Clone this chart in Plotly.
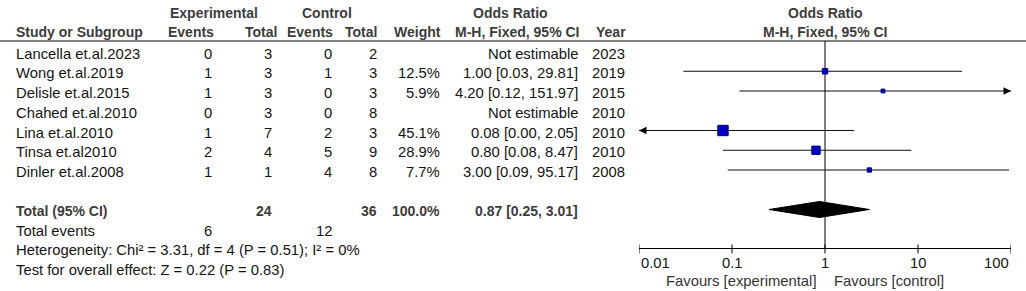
import numpy as np
import plotly.graph_objects as go

# ---------------- data ----------------
studies = ["Lancella et.al.2023", "Wong et.al.2019", "Delisle et.al.2015", "Chahed et.al.2010",
           "Lina et.al.2010", "Tinsa et.al2010", "Dinler et.al.2008"]
exp_events = [0, 1, 1, 0, 1, 2, 1]
exp_total = [3, 3, 3, 3, 7, 4, 1]
ctl_events = [0, 1, 0, 0, 2, 5, 4]
ctl_total = [2, 3, 3, 8, 3, 9, 8]
weights = [None, 12.5, 5.9, None, 45.1, 28.9, 7.7]
or_est = [None, 1.00, 4.20, None, 0.08, 0.80, 3.00]
ci_lo = [None, 0.03, 0.12, None, 0.00, 0.08, 0.09]
ci_hi = [None, 29.81, 151.97, None, 2.05, 8.47, 95.17]
years = [2023, 2019, 2015, 2010, 2010, 2010, 2008]

total_exp_n = 24
total_ctl_n = 36
total_weight = 100.0
total_exp_events = 6
total_ctl_events = 12
pooled_or = 0.87
pooled_lo = 0.25
pooled_hi = 3.01
het_text = "Heterogeneity: Chi² = 3.31, df = 4 (P = 0.51); I² = 0%"
overall_text = "Test for overall effect: Z = 0.22 (P = 0.83)"
tick_vals = [0.01, 0.1, 1, 10, 100]
tick_labels = ["0.01", "0.1", "1", "10", "100"]

# ---------------- layout helpers ----------------
W, H = 1026, 291
AX_MIN, AX_MAX = 0.01, 100
FONT = "Arial, Liberation Sans, sans-serif"
FS_R = 14.8
FS_B = 14
BODY = "#141414"
HEAD = "#3c3c3c"

row_y = [51.5 + 19.75 * i for i in range(len(studies))]
total_y = 209.5
axis_y = 248.5
header_line_y = 41

fig = go.Figure()
ann = []


def txt(x, y, s, anchor="left", bold=False, color=BODY, xref="paper"):
    ann.append(dict(x=(x / W) if xref == "paper" else x, y=y, xref=xref, yref="y",
                    text=("<b>%s</b>" % s) if bold else s,
                    showarrow=False, xanchor=anchor, yanchor="middle",
                    font=dict(family=FONT, size=FS_B if bold else FS_R, color=color)))


# headers
txt(214, 13, "Experimental", "center", True, HEAD)
txt(327, 13, "Control", "center", True, HEAD)
txt(510, 13, "Odds Ratio", "center", True, HEAD)
txt(825, 13, "Odds Ratio", "center", True, HEAD)
txt(14, 32, "Study or Subgroup", "left", True, HEAD)
txt(216, 32, "Events", "right", True, HEAD)
txt(279, 32, "Total", "right", True, HEAD)
txt(335, 32, "Events", "right", True, HEAD)
txt(379, 32, "Total", "right", True, HEAD)
txt(443, 32, "Weight", "right", True, HEAD)
txt(581, 32, "M-H, Fixed, 95% CI", "right", True, HEAD)
txt(628, 32, "Year", "right", True, HEAD)
txt(825, 32, "M-H, Fixed, 95% CI", "center", True, HEAD)

# study rows
for i, name in enumerate(studies):
    ty = row_y[i] + 2
    txt(14, ty, name)
    txt(214, ty, str(exp_events[i]), "right")
    txt(274, ty, str(exp_total[i]), "right")
    txt(334, ty, str(ctl_events[i]), "right")
    txt(379, ty, str(ctl_total[i]), "right")
    if weights[i] is not None:
        txt(442, ty, "%.1f%%" % weights[i], "right")
        txt(580, ty, "%.2f [%.2f, %.2f]" % (or_est[i], ci_lo[i], ci_hi[i]), "right")
    else:
        txt(580, ty, "Not estimable", "right")
    txt(627, ty, str(years[i]), "right")

# totals
ty = total_y + 1.5
txt(14, ty, "Total (95% CI)", "left", True, HEAD)
txt(274, ty, str(total_exp_n), "right", True, HEAD)
txt(379, ty, str(total_ctl_n), "right", True, HEAD)
txt(442, ty, "%.1f%%" % total_weight, "right", True, HEAD)
txt(580, ty, "%.2f [%.2f, %.2f]" % (pooled_or, pooled_lo, pooled_hi), "right", True, HEAD)
txt(14, 231, "Total events")
txt(214, 231, str(total_exp_events), "right")
txt(334, 231, str(total_ctl_events), "right")
txt(14, 250, het_text)
txt(14, 270, overall_text)
txt(819, 281, "Favours [experimental]", "right", False, "#333333")
txt(832, 281, "Favours [control]", "left", False, "#333333")

# tick labels of the odds-ratio scale (placed through the log axis); end labels kept inside
for k, (v, lab) in enumerate(zip(tick_vals, tick_labels)):
    anchor = "left" if k == 0 else ("right" if k == len(tick_vals) - 1 else "center")
    txt(np.log10(v), 263, lab, anchor, xref="x")

# axis line and tick marks of the odds-ratio scale
fig.add_trace(go.Scatter(x=[AX_MIN, AX_MAX], y=[axis_y, axis_y], mode="lines", cliponaxis=False,
                         line=dict(color="black", width=1), hoverinfo="skip"))
tx, ty_ = [], []
for v in tick_vals:
    tx += [v, v, None]
    ty_ += [axis_y - 4, axis_y + 5, None]
fig.add_trace(go.Scatter(x=tx, y=ty_, mode="lines", cliponaxis=False,
                         line=dict(color="black", width=1), hoverinfo="skip"))

# vertical line of no effect
fig.add_trace(go.Scatter(x=[1, 1], y=[header_line_y, axis_y], mode="lines", cliponaxis=False,
                         line=dict(color="black", width=1), hoverinfo="skip"))

# CI lines and arrows
for i in range(len(studies)):
    if or_est[i] is None:
        continue
    lo = max(ci_lo[i], AX_MIN)
    hi = min(ci_hi[i], AX_MAX)
    fig.add_trace(go.Scatter(x=[lo, hi], y=[row_y[i], row_y[i]], mode="lines", cliponaxis=False,
                             line=dict(color="#111111", width=1), hoverinfo="skip"))
    if ci_hi[i] > AX_MAX:
        ann.append(dict(x=np.log10(AX_MAX), y=row_y[i], xref="x", yref="y", text="",
                        showarrow=True, ax=-9, ay=0, arrowhead=2, arrowsize=1.5,
                        arrowwidth=1, arrowcolor="black", standoff=0))
    if ci_lo[i] < AX_MIN:
        ann.append(dict(x=np.log10(AX_MIN), y=row_y[i], xref="x", yref="y", text="",
                        showarrow=True, ax=9, ay=0, arrowhead=2, arrowsize=1.5,
                        arrowwidth=1, arrowcolor="black", standoff=0))

# study squares
est_x = [or_est[i] for i in range(len(studies)) if or_est[i] is not None]
est_y = [row_y[i] for i in range(len(studies)) if or_est[i] is not None]
est_s = [1.55 * np.sqrt(weights[i]) for i in range(len(studies)) if or_est[i] is not None]
fig.add_trace(go.Scatter(x=est_x, y=est_y, mode="markers", cliponaxis=False,
                         marker=dict(symbol="square", size=est_s, color="#0000c0", opacity=1,
                                     line=dict(color="#000080", width=1)),
                         hoverinfo="skip"))

# pooled diamond
half_h = 8
fig.add_trace(go.Scatter(x=[pooled_lo, pooled_or, pooled_hi, pooled_or, pooled_lo],
                         y=[total_y, total_y - half_h, total_y, total_y + half_h, total_y],
                         mode="lines", fill="toself", fillcolor="black", cliponaxis=False,
                         line=dict(color="black", width=1), hoverinfo="skip"))

fig.update_layout(
    width=W, height=H, margin=dict(l=0, r=0, t=0, b=0),
    paper_bgcolor="white", plot_bgcolor="white", showlegend=False,
    annotations=ann,
    shapes=[dict(type="line", xref="paper", yref="y", x0=0, x1=1,
                 y0=header_line_y, y1=header_line_y,
                 line=dict(color="black", width=1))],
    xaxis=dict(type="log", range=[np.log10(AX_MIN), np.log10(AX_MAX)],
               domain=[639 / W, 1011 / W], visible=False),
    yaxis=dict(range=[H, 0], domain=[0, 1], visible=False),
)

fig.write_html("out.html", config={"displayModeBar": False},
               post_script="document.body.style.margin='0px';")
